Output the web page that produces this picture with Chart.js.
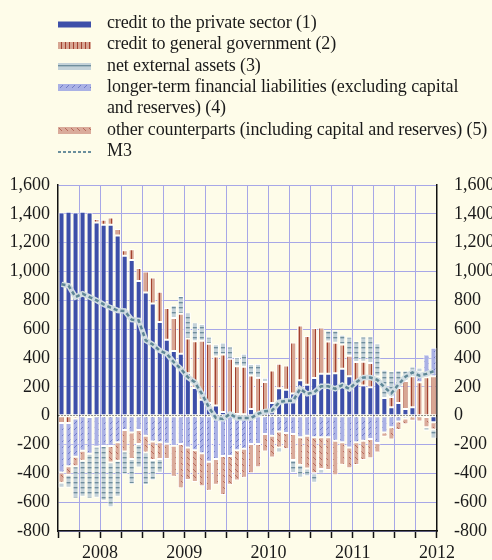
<!DOCTYPE html>
<html>
<head>
<meta charset="utf-8">
<script src="https://cdn.jsdelivr.net/npm/chart.js@4.4.1/dist/chart.umd.min.js"></script>
<style>
  body { margin: 0; background: #fefce9; }
  #wrap { position: relative; width: 492px; height: 560px; overflow: hidden; }
  #legend { position: absolute; left: 0; top: 0; font-family: "Liberation Serif", "Times New Roman", serif; font-size: 18px; color: #1a1a1a; letter-spacing: -0.12px; }
  .item { position: absolute; left: 107px; line-height: 21.3px; white-space: pre; }
  .swatch { position: absolute; left: 58px; }
</style>
</head>
<body>
<div id="wrap">
  <canvas id="chart" width="492" height="560"></canvas>
  <div id="legend"></div>
</div>
<script>
// annual flows, EUR billions, monthly Jan 2008 - Jun 2012
const years = ['2008', '2009', '2010', '2011', '2012'];
const monthNames = ['Jan', 'Feb', 'Mar', 'Apr', 'May', 'Jun', 'Jul', 'Aug', 'Sep', 'Oct', 'Nov', 'Dec'];
const months = [];
years.forEach(y => monthNames.forEach(m => months.push(m + ' ' + y)));
months.length = 54;

const seriesNames = [
    'credit to the private sector (1)',
    'credit to general government (2)',
    'net external assets (3)',
    'longer-term financial liabilities (excluding capital\nand reserves) (4)',
    'other counterparts (including capital and reserves) (5)',
    'M3'
];

const privateSector = [1410, 1415, 1410, 1415, 1410, 1340, 1324, 1324, 1250, 1110,
    1080, 934, 855, 778, 649, 526, 448, 429, 295, 192,
    110, 88, 70, 25, 15, 12, 10, 46, 12, 30,
    88, 190, 180, 153, 246, 215, 262, 290, 290, 295,
    325, 274, 232, 209, 197, 267, 123, 58, 88, 46,
    58, 0, -10, -46];
const generalGov = [-50, -50, -20, 10, -10, 25, 35, 50, 45, 38,
    75, 90, 145, 180, 210, 220, 230, 278, 240, 325,
    410, 410, 340, 400, 380, 330, 330, 232, 250, 204,
    225, 170, 168, 355, 380, 337, 346, 322, 225, 210,
    169, 141, 141, 165, 169, 5, 0, 72, 104, 195,
    216, 232, 267, 274];
const netExternal = [-35, -90, -225, -250, -310, -355, -380, -310, -250, -158,
    -175, -163, -225, -140, -95, 0, 88, 123, 180, 130,
    116, 50, 85, 80, 85, 65, 90, 81, 97, 28,
    0, -35, 0, -90, -90, -55, -65, -30, 75, 85,
    68, 132, 144, 175, 183, 230, 195, 178, 123, 72,
    65, 30, -25, -60];
const longerTerm = [-345, -300, -265, -243, -255, -215, -210, -210, -185, -100,
    -116, -100, -140, -180, -185, -195, -208, -197, -220, -240,
    -260, -320, -300, -280, -280, -240, -230, -197, -197, -128,
    -139, -110, -120, -128, -150, -139, -150, -150, -150, -174,
    -185, -220, -185, -174, -162, -190, -116, -80, -40, -20,
    -5, 70, 158, 197];
const otherCounterparts = [-70, -60, -65, -70, 0, 0, 0, -115, -127, -148,
    -184, -97, -115, -128, -116, -105, -216, -306, -227, -220,
    -230, -200, -180, -270, -200, -210, -200, -203, -160, -120,
    -151, -110, -112, -180, -190, -227, -250, -220, -227, -240,
    -156, -144, -158, -134, -133, -65, -30, -85, -60, -40,
    -30, -40, -70, -50];
const m3 = [911, 902, 823, 846, 823, 800, 772, 749, 730, 726,
    666, 661, 522, 494, 452, 429, 371, 325, 267, 232,
    151, 58, -16, -23, 12, -16, -16, -16, 12, 30,
    35, 93, 104, 104, 186, 151, 162, 204, 204, 186,
    212, 186, 232, 265, 265, 248, 197, 155, 216, 270,
    300, 278, 290, 308];

const fontFamily = '"Liberation Serif", "Times New Roman", serif';
const gridColor = '#a7a7e7';
const blue = '#3d4fa9';

// small tiles for the hatched fills
const makePattern = function(ctx, kind) {
    const t = document.createElement('canvas');
    const c = t.getContext('2d');
    if (kind === 'gov') {
        t.width = 4; t.height = 4;
        c.fillStyle = '#d8a693'; c.fillRect(0, 0, 4, 4);
        c.fillStyle = '#a2412f'; c.fillRect(3, 0, 1, 4);
    } else if (kind === 'ext') {
        t.width = 4; t.height = 5;
        c.fillStyle = '#c4d2d9'; c.fillRect(0, 0, 4, 5);
        c.fillStyle = '#6f8e9d'; c.fillRect(0, 2, 4, 1);
        c.fillStyle = '#a5b9c3'; c.fillRect(0, 3, 4, 1);
    } else if (kind === 'ltfl') {
        t.width = 6; t.height = 6;
        c.fillStyle = '#aab1e5'; c.fillRect(0, 0, 6, 6);
        c.fillStyle = '#717bc8';
        c.fillRect(4, 1, 1, 1); c.fillRect(3, 2, 1, 1); c.fillRect(2, 3, 1, 1);
    } else {
        t.width = 6; t.height = 6;
        c.fillStyle = '#daab9b'; c.fillRect(0, 0, 6, 6);
        c.fillStyle = '#b66a5c';
        c.fillRect(1, 1, 1, 1); c.fillRect(2, 2, 1, 1); c.fillRect(3, 3, 1, 1);
    }
    return ctx.createPattern(t, 'repeat');
};

const ctx = document.getElementById('chart').getContext('2d');
const fills = [blue, makePattern(ctx, 'gov'), makePattern(ctx, 'ext'), makePattern(ctx, 'ltfl'), makePattern(ctx, 'other')];

const barBase = {
    type: 'bar',
    borderColor: '#ffffff',
    borderWidth: 1,
    borderSkipped: false,
    barPercentage: 0.86,
    categoryPercentage: 1,
    stack: 'flows',
    order: 0
};

new Chart(ctx, {
    data: {
        labels: months,
        datasets: [
            { type: 'line', label: seriesNames[5], data: m3, borderColor: '#5f8796', borderWidth: 2.5,
              borderDash: [4, 3], pointRadius: 0, tension: 0, fill: false, stack: 'm3', order: -2 },
            { type: 'line', label: 'M3 halo', data: m3, borderColor: '#d3dee3', borderWidth: 5.5,
              pointRadius: 0, tension: 0, fill: false, stack: 'm3halo', order: -1 },
            Object.assign({}, barBase, { label: seriesNames[0], data: privateSector, backgroundColor: fills[0] }),
            Object.assign({}, barBase, { label: seriesNames[1], data: generalGov, backgroundColor: fills[1] }),
            Object.assign({}, barBase, { label: seriesNames[3], data: longerTerm, backgroundColor: fills[3] }),
            Object.assign({}, barBase, { label: seriesNames[4], data: otherCounterparts, backgroundColor: fills[4] }),
            Object.assign({}, barBase, { label: seriesNames[2], data: netExternal, backgroundColor: fills[2] })
        ]
    },
    options: {
        responsive: false,
        animation: false,
        devicePixelRatio: 1,
        layout: { padding: { top: 185, left: 0, right: 0, bottom: 0 } },
        plugins: { legend: { display: false }, tooltip: { enabled: false } },
        scales: {
            x: {
                stacked: true,
                offset: true,
                grid: {
                    offset: true,
                    lineWidth: 1,
                    color: c => (c.index !== undefined && c.index > 0 && c.index % 3 === 0) ? gridColor : 'rgba(0,0,0,0)',
                    tickColor: c => (c.index === undefined || c.index % 3 === 0) ? '#111' : 'rgba(0,0,0,0)',
                    tickLength: 7,
                    tickWidth: 1.5
                },
                border: { color: '#111', width: 1.5 },
                ticks: {
                    autoSkip: false,
                    maxRotation: 0,
                    minRotation: 0,
                    labelOffset: 3.5,
                    padding: 4,
                    color: '#1a1a1a',
                    font: { family: fontFamily, size: 18 },
                    callback: (v, i) => i % 12 === 5 ? years[Math.floor(i / 12)] : ''
                },
                afterFit: s => { s.height = 29; }
            },
            y: {
                stacked: true,
                min: -800,
                max: 1600,
                ticks: {
                    stepSize: 200,
                    padding: 8,
                    color: '#1a1a1a',
                    font: { family: fontFamily, size: 18 },
                    callback: v => v.toLocaleString('en-US')
                },
                grid: {
                    drawTicks: false,
                    lineWidth: 1,
                    color: c => (c.tick && c.tick.value === 0) ? '#222' : gridColor
                },
                border: {
                    color: '#111',
                    width: 1.5,
                    dash: c => (c.tick && c.tick.value === 0) ? [1, 2] : []
                },
                afterFit: s => { s.width = 58; }
            },
            y2: {
                position: 'right',
                min: -800,
                max: 1600,
                ticks: {
                    stepSize: 200,
                    padding: 9,
                    color: '#1a1a1a',
                    font: { family: fontFamily, size: 18 },
                    callback: v => v.toLocaleString('en-US')
                },
                grid: { display: false },
                border: { color: '#111', width: 1.5 },
                afterFit: s => { s.width = 55; }
            }
        }
    }
});

// legend drawn as html above the plot
const legend = document.getElementById('legend');
const rowTops = [12, 33.3, 54.6, 75.9, 118.5, 139.8];
seriesNames.forEach((name, i) => {
    const sw = document.createElement('canvas');
    sw.className = 'swatch';
    const h = i === 5 ? 4 : 7;
    sw.width = 33; sw.height = h;
    sw.style.top = (rowTops[i] + 12 - h / 2) + 'px';
    const c = sw.getContext('2d');
    if (i === 5) {
        c.strokeStyle = '#6a8f9d';
        c.lineWidth = 2;
        c.setLineDash([3, 2]);
        c.beginPath(); c.moveTo(0, 2); c.lineTo(33, 2); c.stroke();
    } else if (i === 0) {
        c.fillStyle = blue;
        c.fillRect(0, 0.5, 33, 6);
    } else {
        c.fillStyle = makePattern(c, ['', 'gov', 'ext', 'ltfl', 'other'][i]);
        c.fillRect(0, 0, 33, h);
    }
    legend.appendChild(sw);

    const t = document.createElement('div');
    t.className = 'item';
    t.style.top = rowTops[i] + 'px';
    t.textContent = name;
    legend.appendChild(t);
});
</script>
</body>
</html>
